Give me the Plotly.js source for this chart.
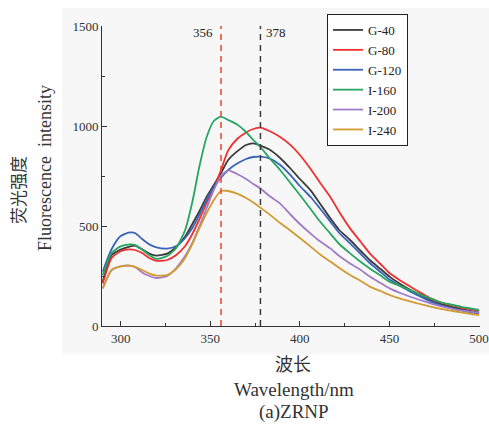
<!DOCTYPE html>
<html>
<head>
<meta charset="utf-8">
<script src="https://cdn.plot.ly/plotly-3.0.1.min.js"></script>
<style>html,body{margin:0;padding:0;background:#fff;}#chart{width:489px;height:428px;}</style>
</head>
<body>
<div id="chart"></div>
<script>
const wavelength = [290,295,300,305,308,312,316,320,326,331,336,340,344,348,352,356,360,365,370,374,378,383,389,395,400,406,411,417,422,428,434,439,445,450,456,462,467,473,478,484,490,495,500];
const seriesNames = ["G-40","G-80","G-120","I-160","I-200","I-240"];
const g40  = [222,355,382,397,402,383,362,352,362,395,448,510,575,647,705,765,830,873,905,913,902,882,840,785,735,678,615,538,480,430,375,330,285,247,210,178,155,130,112,97,85,75,67];
const g80  = [213,340,374,383,380,365,340,326,330,355,400,460,535,615,690,780,878,935,968,985,992,975,945,903,855,785,720,645,570,488,420,363,310,265,228,195,168,138,120,105,92,84,77];
const g120 = [272,385,450,468,465,435,408,393,387,400,440,490,558,630,695,742,780,812,835,845,847,838,805,752,700,645,590,522,465,413,360,315,270,232,200,170,148,122,105,90,78,70,63];
const i160 = [255,365,398,408,406,382,354,336,350,390,480,620,800,945,1025,1047,1030,1008,970,930,895,840,780,712,655,585,525,462,410,363,320,288,252,222,200,178,158,137,120,108,96,88,80];
const i200 = [188,280,298,302,295,268,250,240,250,290,350,415,500,590,680,750,778,760,735,710,688,650,612,555,510,462,425,388,350,313,280,247,215,188,165,145,130,113,100,88,78,72,67];
const i240 = [188,280,298,302,296,280,262,252,255,285,340,410,490,565,630,675,675,662,640,618,592,558,515,475,440,397,360,322,290,255,225,197,175,155,137,122,110,97,87,77,68,61,55];
const peakLines = [356, 378];
const peakLabels = ["356", "378"];
const xTicks = [300, 350, 400, 450, 500];
const yTicks = [0, 500, 1000, 1500];

const seriesValues = [g40, g80, g120, i160, i200, i240];
const colors = ["#3c3c3c", "#ee3030", "#3a64b8", "#27a561", "#a07cc8", "#d29a30"];
const peakColors = ["#e8452c", "#3c3c3c"];

const serif = "'Liberation Serif', 'DejaVu Serif', serif";
const cjk = "'Noto Sans CJK SC', sans-serif";

const traces = seriesNames.map((n, i) => ({
  x: wavelength, y: seriesValues[i], name: n, type: "scatter", mode: "lines",
  line: {color: colors[i], width: 1.8, shape: "spline", smoothing: 0.6}
}));

const L = 102, R = 480, T = 26, B = 326;
const W = R - L, H = B - T;
const px = v => (v - L) / W;
const py = v => (B - v) / H;

const shapes = [
  {type: "rect", xref: "paper", yref: "paper", x0: px(62), x1: px(492), y0: py(354), y1: py(8),
   fillcolor: "#f7f7f7", line: {width: 0}, layer: "below"}
].concat(peakLines.map((p, i) => ({
  type: "line", xref: "x", yref: "paper", x0: p, x1: p, y0: 0, y1: 1,
  line: {color: peakColors[i], width: 1.5, dash: "6px,5px"}
})));

const annotations = [
  {text: peakLabels[0], xref: "x", yref: "paper", x: peakLines[0], y: py(33), xanchor: "right", yanchor: "middle", xshift: -6, showarrow: false, font: {family: serif, size: 13, color: "#222"}},
  {text: peakLabels[1], xref: "x", yref: "paper", x: peakLines[1], y: py(33), xanchor: "left", yanchor: "middle", xshift: 4, showarrow: false, font: {family: serif, size: 13, color: "#222"}},
  {text: "荧光强度", xref: "paper", yref: "paper", x: px(17), y: py(190), textangle: -90, showarrow: false, xanchor: "center", yanchor: "middle", font: {family: cjk, size: 17, color: "#333"}},
  {text: "Fluorescence  intensity", xref: "paper", yref: "paper", x: px(45), y: py(168), textangle: -90, showarrow: false, xanchor: "center", yanchor: "middle", font: {family: serif, size: 18, color: "#333"}},
  {text: "波长", xref: "paper", yref: "paper", x: px(293), y: py(363), showarrow: false, xanchor: "center", yanchor: "middle", font: {family: cjk, size: 18, color: "#333"}},
  {text: "Wavelength/nm", xref: "paper", yref: "paper", x: px(294), y: py(389), showarrow: false, xanchor: "center", yanchor: "middle", font: {family: serif, size: 19, color: "#333"}},
  {text: "(a)ZRNP", xref: "paper", yref: "paper", x: px(294), y: py(412), showarrow: false, xanchor: "center", yanchor: "middle", font: {family: serif, size: 19, color: "#333"}}
];

const layout = {
  width: 489, height: 428,
  margin: {l: L, r: 489 - R, t: T, b: 428 - B, pad: 0},
  paper_bgcolor: "#ffffff", plot_bgcolor: "#f7f7f7",
  showlegend: true,
  legend: {x: px(327), y: py(14), xanchor: "left", yanchor: "top", bgcolor: "#ffffff", bordercolor: "#222", borderwidth: 1,
           font: {family: serif, size: 13, color: "#222"}, tracegroupgap: 0, itemwidth: 30},
  xaxis: {range: [289.6, 500.5], tickvals: xTicks, ticks: "inside", ticklen: 5, tickcolor: "#333", showline: true, linecolor: "#333", linewidth: 1,
          showgrid: false, zeroline: false, tickfont: {family: serif, size: 13, color: "#333"},
          minor: {dtick: 25, tick0: 300, ticks: "inside", ticklen: 3, tickcolor: "#333", showgrid: false}},
  yaxis: {range: [0, 1500], tickvals: yTicks, ticks: "inside", ticklen: 5, tickcolor: "#333", showline: true, linecolor: "#333", linewidth: 1,
          showgrid: false, zeroline: false, tickfont: {family: serif, size: 13, color: "#333"},
          minor: {dtick: 250, tick0: 0, ticks: "inside", ticklen: 3, tickcolor: "#333", showgrid: false}},
  shapes: shapes,
  annotations: annotations
};

Plotly.newPlot("chart", traces, layout, {displayModeBar: false, staticPlot: true});
</script>
</body>
</html>
